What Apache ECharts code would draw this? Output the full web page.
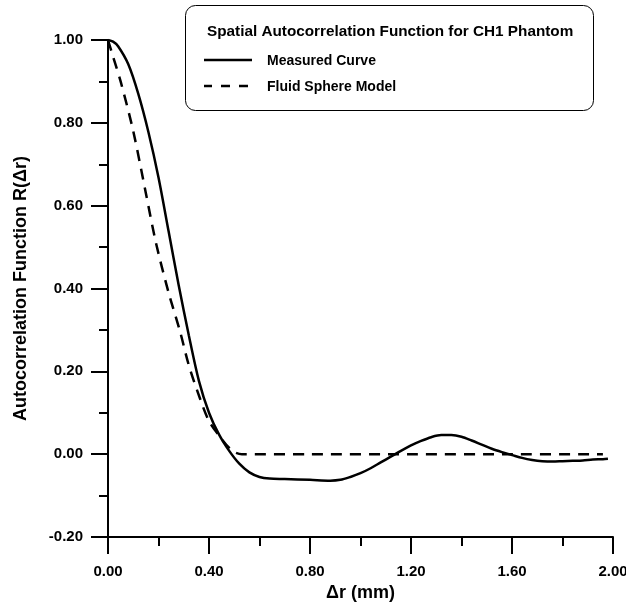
<!DOCTYPE html>
<html>
<head>
<meta charset="utf-8">
<script src="https://cdn.jsdelivr.net/npm/echarts@6/dist/echarts.min.js"></script>
<style>
  html, body { margin: 0; padding: 0; background: #fff; }
  #chart { width: 626px; height: 603px; }
</style>
</head>
<body>
<div id="chart"></div>
<script>
// Separation distance Δr (mm) and autocorrelation values
const measuredX = [0.00, 0.02, 0.04, 0.08, 0.12, 0.16, 0.20, 0.24, 0.28, 0.32, 0.36, 0.40, 0.44, 0.48, 0.52, 0.56, 0.60, 0.64, 0.70, 0.80, 0.88, 0.92, 0.96, 1.00, 1.04, 1.08, 1.12, 1.16, 1.20, 1.24, 1.28, 1.32, 1.36, 1.40, 1.44, 1.48, 1.52, 1.56, 1.60, 1.64, 1.68, 1.72, 1.76, 1.80, 1.84, 1.88, 1.92, 1.96, 1.98];
const measuredY = [1.000, 0.996, 0.985, 0.942, 0.870, 0.778, 0.668, 0.538, 0.408, 0.287, 0.177, 0.100, 0.047, 0.008, -0.023, -0.044, -0.055, -0.059, -0.060, -0.062, -0.064, -0.062, -0.055, -0.046, -0.034, -0.020, -0.006, 0.008, 0.021, 0.032, 0.041, 0.046, 0.046, 0.042, 0.033, 0.023, 0.013, 0.005, -0.002, -0.009, -0.014, -0.017, -0.018, -0.017, -0.016, -0.015, -0.013, -0.012, -0.011];

const modelX = [0.00, 0.02, 0.05, 0.10, 0.15, 0.19, 0.24, 0.285, 0.32, 0.364, 0.40, 0.447, 0.48, 0.50, 0.53, 0.80, 1.20, 1.60, 1.96];
const modelY = [1.00, 0.96, 0.90, 0.78, 0.63, 0.51, 0.39, 0.297, 0.215, 0.135, 0.08, 0.039, 0.015, 0.005, 0.0, 0.0, 0.0, 0.0, 0.0];

const xTicks = { min: 0, max: 2.0, interval: 0.4 };
const yTicks = { min: -0.2, max: 1.0, interval: 0.2 };

const legendTitle = 'Spatial Autocorrelation Function for CH1 Phantom';
const seriesNames = ['Measured Curve', 'Fluid Sphere Model'];

const FONT = '"Liberation Sans", Arial, Helvetica, sans-serif';

function pairs(xs, ys) { return xs.map((x, i) => [x, ys[i]]); }

const chart = echarts.init(document.getElementById('chart'), null, { renderer: 'canvas' });

const axisCommon = {
  axisLine: { show: true, onZero: false, lineStyle: { color: '#000', width: 2 } },
  axisTick: { show: true, inside: false, length: 17, lineStyle: { color: '#000', width: 2 } },
  minorTick: { show: true, splitNumber: 2, length: 9, lineStyle: { color: '#000', width: 2 } },
  splitLine: { show: false },
  minorSplitLine: { show: false },
  axisLabel: {
    color: '#000', fontFamily: FONT, fontWeight: 'bold', fontSize: 15,
    formatter: v => v.toFixed(2)
  },
  nameTextStyle: { color: '#000', fontFamily: FONT, fontWeight: 'bold', fontSize: 18 }
};

// Key box: framed title plus one sample line per series
const keyText = { fill: '#000', fontFamily: FONT, fontWeight: 'bold', fontSize: 14 };
const legendGraphics = [
  {
    type: 'rect', z: 0,
    shape: { x: 185.5, y: 5.5, width: 408, height: 105, r: 10 },
    style: { fill: '#fff', stroke: '#000', lineWidth: 1 }
  },
  {
    type: 'text', z: 1, left: 207, top: 24,
    style: { text: legendTitle, fill: '#000', fontFamily: FONT, fontWeight: 'bold', fontSize: 15.3 }
  },
  {
    type: 'line', z: 1,
    shape: { x1: 204, y1: 60, x2: 252, y2: 60 },
    style: { stroke: '#000', lineWidth: 2.5 }
  },
  {
    type: 'text', z: 1, left: 267, top: 54,
    style: Object.assign({ text: seriesNames[0] }, keyText)
  },
  {
    type: 'line', z: 1,
    shape: { x1: 204, y1: 86, x2: 252, y2: 86 },
    style: { stroke: '#000', lineWidth: 2.5, lineDash: [9, 9], lineDashOffset: 1 }
  },
  {
    type: 'text', z: 1, left: 267, top: 80,
    style: Object.assign({ text: seriesNames[1] }, keyText)
  }
];

chart.setOption({
  animation: false,
  backgroundColor: '#fff',
  grid: { left: 108, right: 13, top: 40, bottom: 66, containLabel: false, outerBoundsMode: 'none' },
  graphic: legendGraphics,
  xAxis: Object.assign({}, axisCommon, {
    type: 'value',
    min: xTicks.min, max: xTicks.max, interval: xTicks.interval,
    name: 'Δr (mm)', nameLocation: 'middle', nameGap: 36,
    axisLabel: Object.assign({}, axisCommon.axisLabel, { margin: 27 })
  }),
  yAxis: Object.assign({}, axisCommon, {
    type: 'value',
    min: yTicks.min, max: yTicks.max, interval: yTicks.interval,
    name: 'Autocorrelation Function R(Δr)', nameLocation: 'middle', nameGap: 78,
    axisLabel: Object.assign({}, axisCommon.axisLabel, { margin: 25 })
  }),
  series: [
    {
      name: seriesNames[0], type: 'line', symbol: 'none', smooth: 0.3,
      lineStyle: { color: '#000', width: 2.5, type: 'solid' },
      data: pairs(measuredX, measuredY), z: 3
    },
    {
      name: seriesNames[1], type: 'line', symbol: 'none', smooth: 0.3,
      lineStyle: { color: '#000', width: 2.5, type: [11, 8] },
      data: pairs(modelX, modelY), z: 2
    }
  ]
});
</script>
</body>
</html>
